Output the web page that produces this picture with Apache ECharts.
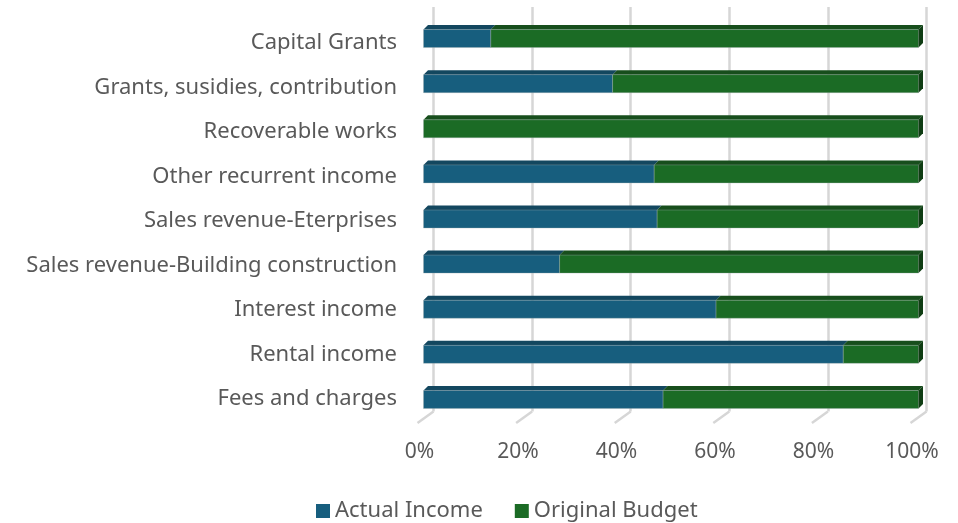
<!DOCTYPE html>
<html>
<head>
<meta charset="utf-8">
<script src="https://cdn.jsdelivr.net/npm/echarts@6/dist/echarts.min.js"></script>
<style>
html,body{margin:0;padding:0;background:#fff}
#chart{width:958px;height:523px}
</style>
</head>
<body>
<div id="chart"></div>
<script>
// categories top to bottom
var categories = ['Capital Grants','Grants, susidies, contribution','Recoverable works','Other recurrent income',
  'Sales revenue-Eterprises','Sales revenue-Building construction','Interest income','Rental income','Fees and charges'];
// share of each row, in percent
var actualIncome = [13.6, 38.2, 0, 46.6, 47.2, 27.5, 59.1, 84.8, 48.4];
var originalBudget = [86.4, 61.8, 100, 53.4, 52.8, 72.5, 40.9, 15.2, 51.6];
var tickValues = [0, 20, 40, 60, 80, 100];

var FONT = 'Noto Sans';
var chart = echarts.init(document.getElementById('chart'));

// segments [catIndex, start, end]
var actSeg = [], budSeg = [];
for (var i = 0; i < categories.length; i++) {
  actSeg.push([i, 0, actualIncome[i]]);
  budSeg.push([i, actualIncome[i], actualIncome[i] + originalBudget[i]]);
}

// front face + top face (+ right side on the last segment)
function barRender(front, top, side) {
  return function (params, api) {
    var start = api.value(1), end = api.value(2), cat = api.value(0);
    if (end - start <= 0) return;
    var s = api.coord([start, cat]), e = api.coord([end, cat]);
    var h = 18, dx = 4.5, dy = 4.5;
    var y0 = s[1] - h / 2, y1 = s[1] + h / 2;
    var kids = [
      {type: 'polygon', shape: {points: [[s[0], y0], [s[0] + dx, y0 - dy], [e[0] + dx, y0 - dy], [e[0], y0]]}, style: {fill: top}},
      {type: 'rect', shape: {x: s[0], y: y0, width: e[0] - s[0], height: h}, style: {fill: front, stroke: 'rgba(160,170,175,0.6)', lineWidth: 0.6}}
    ];
    if (end >= 99.9) {
      kids.push({type: 'polygon', shape: {points: [[e[0], y0], [e[0] + dx, y0 - dy], [e[0] + dx, y1 - dy], [e[0], y1]]}, style: {fill: side}});
    }
    return {type: 'group', children: kids};
  };
}

chart.setOption({
  animation: false,
  grid: [
    {left: 433.5, width: 493, top: 7, bottom: 111.5},     // back wall
    {left: 423.5, width: 495, top: 16, height: 406},      // bars
    {left: 419.5, width: 492.5, top: 20.75, height: 400.5} // labels
  ],
  xAxis: [
    {gridIndex: 0, type: 'value', min: 0, max: 100, interval: 20,
      axisLine: {show: false}, axisTick: {show: false}, axisLabel: {show: false},
      splitLine: {show: true, lineStyle: {color: '#d6d6d6', width: 2.5}}},
    {gridIndex: 1, type: 'value', min: 0, max: 100, interval: 20, show: false},
    {gridIndex: 2, type: 'value', min: 0, max: 100, interval: 20,
      axisLine: {show: false}, axisTick: {show: false}, splitLine: {show: false},
      axisLabel: {margin: 20, fontFamily: FONT, fontSize: 21, color: '#595959', formatter: '{value}%'}}
  ],
  yAxis: [
    {gridIndex: 0, type: 'value', min: 0, max: 1, show: false},
    {gridIndex: 1, type: 'category', data: categories, inverse: true, show: false},
    {gridIndex: 2, type: 'category', data: categories, inverse: true,
      axisLine: {show: false}, axisTick: {show: false},
      axisLabel: {margin: 22.5, fontFamily: FONT, fontSize: 22, color: '#595959'}}
  ],
  legend: {
    top: 495, left: 311, itemWidth: 14, itemHeight: 14, itemGap: 32,
    icon: 'rect',
    textStyle: {fontFamily: FONT, fontSize: 22, color: '#595959'},
    data: ['Actual Income', 'Original Budget']
  },
  series: [
    {
      type: 'custom', name: 'floor', xAxisIndex: 0, yAxisIndex: 0, silent: true,
      data: tickValues.map(function (v) { return [v, 0]; }),
      renderItem: function (params, api) {
        var p = api.coord([api.value(0), 0]);
        return {type: 'line', shape: {x1: p[0], y1: p[1], x2: p[0] - 16, y2: p[1] + 11.5},
          style: {stroke: '#d6d6d6', lineWidth: 2.5}};
      }
    },
    {
      type: 'custom', name: 'Actual Income', xAxisIndex: 1, yAxisIndex: 1,
      itemStyle: {color: '#175e7e'},
      encode: {x: [1, 2], y: 0},
      data: actSeg,
      renderItem: barRender('#175e7e', '#13475f', '#0f3a4e')
    },
    {
      type: 'custom', name: 'Original Budget', xAxisIndex: 1, yAxisIndex: 1,
      itemStyle: {color: '#1b6b25'},
      encode: {x: [1, 2], y: 0},
      data: budSeg,
      renderItem: barRender('#1b6b25', '#174e1c', '#0f3d13')
    }
  ]
});
</script>
</body>
</html>
